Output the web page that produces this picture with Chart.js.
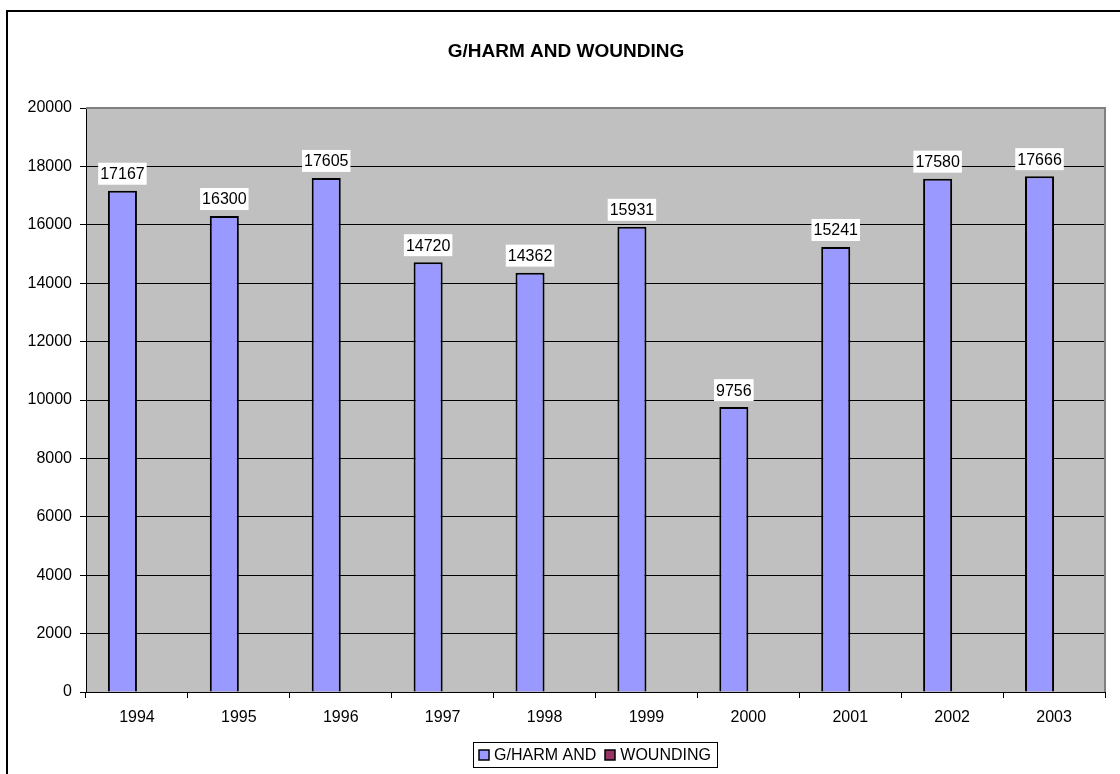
<!DOCTYPE html>
<html>
<head>
<meta charset="utf-8">
<script src="https://cdn.jsdelivr.net/npm/chart.js@4.4.1/dist/chart.umd.min.js"></script>
<style>
    html, body { margin: 0; padding: 0; background: #fff; }
    #wrap { width: 1120px; height: 774px; }
</style>
</head>
<body>
<div id="wrap"><canvas id="crimeChart"></canvas></div>
<script>
const chartTitle = "G/HARM AND WOUNDING";
const years = ["1994", "1995", "1996", "1997", "1998", "1999", "2000", "2001", "2002", "2003"];
const harmValues = [17167, 16300, 17605, 14720, 14362, 15931, 9756, 15241, 17580, 17666];
const woundingValues = [null, null, null, null, null, null, null, null, null, null];
const seriesNames = ["G/HARM AND", "WOUNDING"];
const seriesColors = ["#9999ff", "#993366"];
const yTicks = [0, 2000, 4000, 6000, 8000, 10000, 12000, 14000, 16000, 18000, 20000];

const FONT = "'Liberation Sans', Arial, sans-serif";

// frame, title, plot background, value labels, boxed legend
const excelLook = {
    id: "excelLook",
    beforeDraw(chart) {
        const ctx = chart.ctx;
        const a = chart.chartArea;
        ctx.save();
        ctx.fillStyle = "#ffffff";
        ctx.fillRect(0, 0, chart.width, chart.height);
        ctx.fillStyle = "#000";
        ctx.fillRect(6, 10, chart.width, 2);
        ctx.fillRect(6, 10, 2, chart.height);
        ctx.fillStyle = "#c0c0c0";
        ctx.fillRect(a.left, a.top, a.right - a.left, a.bottom - a.top);

        ctx.fillStyle = "#000";
        ctx.font = "bold 19px " + FONT;
        ctx.textAlign = "center";
        ctx.textBaseline = "middle";
        ctx.fillText(chartTitle, 566, 52);
        ctx.restore();
    },
    beforeDatasetsDraw(chart) {
        const ctx = chart.ctx;
        const a = chart.chartArea;
        ctx.save();
        ctx.strokeStyle = "#808080";
        ctx.lineWidth = 2;
        ctx.beginPath();
        ctx.moveTo(a.left, a.top);
        ctx.lineTo(a.right, a.top);
        ctx.lineTo(a.right, a.bottom);
        ctx.stroke();
        ctx.restore();
    },
    afterDatasetsDraw(chart) {
        const ctx = chart.ctx;
        const meta = chart.getDatasetMeta(0);
        ctx.save();
        ctx.font = "16px " + FONT;
        ctx.textAlign = "center";
        ctx.textBaseline = "middle";
        meta.data.forEach((bar, i) => {
            const txt = String(harmValues[i]);
            const w = ctx.measureText(txt).width + 4;
            const h = 22;
            const cy = bar.y - 6 - h / 2;
            ctx.fillStyle = "#ffffff";
            ctx.fillRect(bar.x - w / 2, cy - h / 2, w, h);
            ctx.fillStyle = "#000";
            ctx.fillText(txt, bar.x, cy + 1);
        });
        ctx.restore();
    },
    afterDraw(chart) {
        const ctx = chart.ctx;
        ctx.save();
        ctx.font = "16px " + FONT;
        ctx.textBaseline = "middle";
        ctx.textAlign = "left";
        const gap = 5, sw = 10, pad = 6, midY = 755;
        let total = pad;
        const widths = seriesNames.map(n => ctx.measureText(n).width);
        widths.forEach((w, i) => { total += sw + gap + w + (i < widths.length - 1 ? 9 : 0); });
        total += pad;
        const left = 595 - total / 2;
        ctx.strokeStyle = "#000";
        ctx.lineWidth = 1;
        ctx.strokeRect(Math.round(left) + 0.5, 742.5, Math.round(total), 25);
        let x = left + pad;
        seriesNames.forEach((name, i) => {
            ctx.fillStyle = seriesColors[i];
            ctx.fillRect(Math.round(x), midY - 5, sw, sw);
            ctx.strokeStyle = "#000";
            ctx.lineWidth = 1.5;
            ctx.strokeRect(Math.round(x), midY - 5, sw, sw);
            ctx.fillStyle = "#000";
            ctx.fillText(name, x + sw + gap, midY + 1);
            x += sw + gap + widths[i] + 9;
        });
        ctx.restore();
    }
};

new Chart(document.getElementById("crimeChart"), {
    type: "bar",
    data: {
        labels: years,
        datasets: [
            {
                label: seriesNames[0],
                data: harmValues,
                backgroundColor: seriesColors[0],
                borderColor: "#000000",
                borderWidth: 2,
                borderSkipped: "bottom"
            },
            {
                label: seriesNames[1],
                data: woundingValues,
                backgroundColor: seriesColors[1],
                borderColor: "#000000",
                borderWidth: 2
            }
        ]
    },
    options: {
        responsive: true,
        maintainAspectRatio: false,
        animation: false,
        events: [],
        datasets: {
            bar: {
                categoryPercentage: 0.57,
                barPercentage: 1.0
            }
        },
        layout: {
            padding: { left: 0, right: 15, top: 108, bottom: 32 }
        },
        plugins: {
            title: { display: false },
            legend: { display: false },
            tooltip: { enabled: false }
        },
        scales: {
            x: {
                afterFit(scale) { scale.height = 50; },
                border: { color: "#000", width: 1 },
                grid: {
                    offset: true,
                    drawOnChartArea: false,
                    color: "#000",
                    tickLength: 6
                },
                ticks: {
                    color: "#000",
                    font: { family: FONT, size: 16 },
                    padding: 10,
                    maxRotation: 0
                }
            },
            y: {
                min: 0,
                max: 20000,
                afterFit(scale) { scale.width = 86; },
                afterBuildTicks(scale) {
                    scale.ticks = yTicks.map(v => ({ value: v }));
                },
                border: { color: "#000", width: 1 },
                grid: {
                    color: "#000",
                    lineWidth: 1,
                    tickLength: 6
                },
                ticks: {
                    color: "#000",
                    font: { family: FONT, size: 16 },
                    padding: 8,
                    callback: v => String(v)
                }
            }
        }
    },
    plugins: [excelLook]
});
</script>
</body>
</html>
